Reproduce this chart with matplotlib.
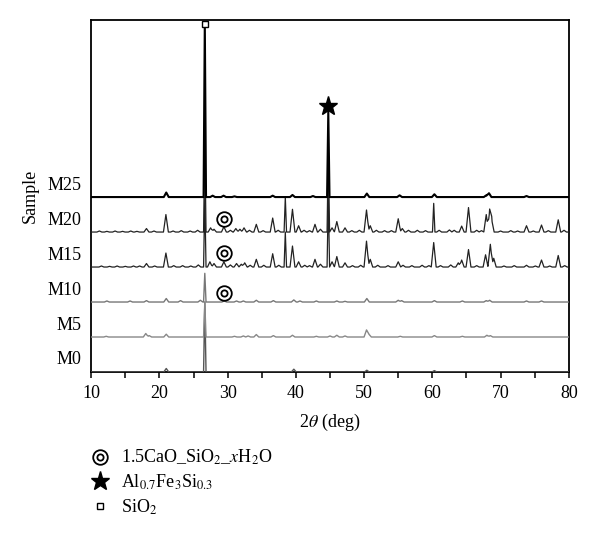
import numpy as np
import matplotlib
matplotlib.use("Agg")
import matplotlib.pyplot as plt
from matplotlib.lines import Line2D
from matplotlib.legend_handler import HandlerTuple

plt.rcParams['font.family'] = ['Liberation Serif', 'DejaVu Serif']
plt.rcParams['mathtext.fontset'] = 'stix'

# sample names, bottom to top
samples = ['M0', 'M5', 'M10', 'M15', 'M20', 'M25']

# peak positions (2theta, deg) and heights (in units of trace spacing)
m0_pos = [21.0, 26.65, 39.7, 50.4, 60.3]
m0_h = [0.10, 2.0, 0.08, 0.05, 0.04]

m5_pos = [12.2, 18.0, 18.5, 21.0, 26.65, 31.0, 32.3, 33.0, 34.2, 36.7, 39.5, 43.0, 45.0,
          46.0, 47.2, 50.35, 50.7, 55.3, 60.3, 64.4, 68.0, 68.5]
m5_h = [0.02, 0.10, 0.04, 0.08, 1.0, 0.02, 0.03, 0.03, 0.07, 0.04, 0.05, 0.02, 0.03,
        0.05, 0.03, 0.20, 0.08, 0.02, 0.04, 0.02, 0.05, 0.04]

m10_pos = [12.3, 15.7, 18.1, 21.0, 23.1, 26.0, 26.65, 29.5, 31.3, 32.3, 34.2, 36.7, 39.7,
           40.6, 43.0, 46.0, 47.2, 50.4, 55.0, 55.5, 60.3, 64.4, 67.9, 68.4, 73.8, 76.0]
m10_h = [0.03, 0.03, 0.04, 0.10, 0.04, 0.05, 0.82, 0.03, 0.03, 0.03, 0.05, 0.04, 0.06,
         0.03, 0.03, 0.03, 0.02, 0.10, 0.05, 0.04, 0.04, 0.03, 0.04, 0.05, 0.03, 0.03]

m15_pos = [11.5, 12.7, 13.8, 15.0, 16.2, 17.1, 18.1, 19.3, 20.95, 22.1, 23.4, 24.6, 25.7,
           26.65, 27.4, 28.0, 29.45, 30.4, 31.3, 32.0, 32.5, 33.3, 34.2, 35.3, 36.6, 37.5,
           38.45, 39.5, 40.4, 41.3, 42.0, 42.8, 43.6, 44.75, 45.3, 46.0, 47.2, 48.3, 49.5,
           50.35, 50.9, 52.0, 53.5, 55.0, 55.7, 57.0, 58.5, 59.5, 60.2, 61.2, 62.7, 63.8,
           64.3, 65.3, 66.5, 67.8, 68.5, 69.0, 70.5, 72.0, 73.8, 75.1, 76.0, 77.2, 78.45, 79.4]
m15_h = [0.03, 0.02, 0.03, 0.02, 0.03, 0.03, 0.10, 0.03, 0.40, 0.04, 0.04, 0.03, 0.06,
         2.0, 0.15, 0.10, 0.15, 0.06, 0.10, 0.08, 0.12, 0.05, 0.22, 0.05, 0.38, 0.05,
         1.0, 0.60, 0.15, 0.05, 0.04, 0.22, 0.08, 2.0, 0.15, 0.30, 0.12, 0.04, 0.05,
         0.74, 0.22, 0.05, 0.04, 0.15, 0.05, 0.04, 0.05, 0.04, 0.70, 0.04, 0.06, 0.12,
         0.20, 0.50, 0.04, 0.35, 0.65, 0.25, 0.03, 0.04, 0.05, 0.03, 0.20, 0.03, 0.33, 0.04]

m20_pos = [11.2, 12.3, 13.5, 14.6, 15.8, 16.7, 18.1, 19.2, 20.95, 22.0, 23.2, 24.5, 25.6,
           26.65, 27.5, 28.0, 29.45, 30.4, 31.2, 31.8, 32.4, 33.2, 34.2, 35.2, 36.6, 37.4,
           38.45, 39.5, 40.4, 41.2, 42.0, 42.8, 43.6, 44.75, 45.3, 46.0, 47.2, 48.2, 49.3,
           50.35, 50.9, 51.8, 53.0, 54.0, 55.0, 55.6, 56.5, 57.8, 59.0, 60.2, 61.0, 62.5,
           63.2, 64.3, 65.3, 66.5, 67.2, 67.9, 68.4, 68.7, 70.0, 71.5, 72.5, 73.8, 74.8,
           76.0, 77.0, 78.45, 79.3]
m20_h = [0.03, 0.02, 0.03, 0.02, 0.03, 0.02, 0.10, 0.03, 0.50, 0.03, 0.04, 0.03, 0.05,
         2.7, 0.12, 0.08, 0.15, 0.05, 0.10, 0.08, 0.12, 0.05, 0.22, 0.04, 0.40, 0.05,
         1.0, 0.65, 0.18, 0.05, 0.04, 0.22, 0.08, 2.4, 0.12, 0.30, 0.12, 0.04, 0.05,
         0.63, 0.18, 0.05, 0.04, 0.04, 0.38, 0.10, 0.05, 0.05, 0.04, 0.82, 0.05, 0.06,
         0.05, 0.17, 0.70, 0.05, 0.04, 0.50, 0.60, 0.35, 0.03, 0.04, 0.03, 0.18, 0.03,
         0.20, 0.04, 0.35, 0.05]

m25_pos = [21.0, 26.65, 27.8, 29.4, 31.0, 36.6, 39.5, 42.5, 44.75, 50.4, 55.2, 60.3,
           67.9, 68.3, 73.8]
m25_h = [0.13, 5.0, 0.04, 0.04, 0.02, 0.04, 0.06, 0.03, 2.45, 0.10, 0.05, 0.08,
         0.05, 0.11, 0.03]

peaks = [(m0_pos, m0_h), (m5_pos, m5_h), (m10_pos, m10_h),
         (m15_pos, m15_h), (m20_pos, m20_h), (m25_pos, m25_h)]

# phase markers
csh_x = [29.4, 29.4, 29.4]
csh_y = [4.37, 3.4, 2.25]
alfesi_x = [44.75]
alfesi_y = [7.6]
sio2_x = [26.65]
sio2_y = [9.95]

colors = ['#555555', '#888888', '#777777', '#222222', '#222222', 'black']
widths = [1.0, 1.0, 1.0, 0.9, 0.9, 1.5]


def peak_width(v):
    return 0.18 if v > 0.8 else 0.36


def trace(pos, h, lo=10, hi=80):
    # piecewise linear pattern: each peak is a narrow triangle on a flat baseline
    xs = [lo, hi]
    for p, v in zip(pos, h):
        w = peak_width(v)
        xs += [p - w, p, p + w]
    xs = np.unique(np.clip(xs, lo, hi))
    ys = np.zeros_like(xs)
    for p, v in zip(pos, h):
        w = peak_width(v)
        ys += np.interp(xs, [p - w, p, p + w], [0, v, 0], left=0, right=0)
    return xs, ys


fig = plt.figure(figsize=(6, 5.41), dpi=100)
ax = fig.add_axes([0.152, 0.3124, 0.796, 0.6506])

for i, (pos, h) in enumerate(peaks):
    xs, ys = trace(pos, h)
    ax.plot(xs, ys + i, color=colors[i], lw=widths[i], zorder=3 + i * 0.1)

ax.plot(csh_x, csh_y, 'o', ms=10.5, mfc='none', mec='black', mew=1.3, zorder=6)
ax.plot(csh_x, csh_y, 'o', ms=4.5, mfc='none', mec='black', mew=1.3, zorder=6)
ax.plot(alfesi_x, alfesi_y, '*', ms=14, color='black', zorder=6)
ax.plot(sio2_x, sio2_y, 's', ms=5, mfc='white', mec='black', mew=1.0, zorder=6)

ax.set_xlim(10, 80)
ax.set_ylim(0, 10.06)
ax.set_xticks(np.arange(10, 81, 10))
ax.set_xticks(np.arange(15, 80, 10), minor=True)
ax.set_yticks(np.arange(len(samples)) + 0.4)
ax.set_yticklabels(samples)
ax.tick_params(axis='x', which='both', direction='out', length=4.5, width=1.1,
               labelsize=13, pad=5)
ax.tick_params(axis='y', length=0, labelsize=13, pad=7)
for s in ax.spines.values():
    s.set_linewidth(1.3)

ax.set_xlabel(r'2$\theta$ (deg)', fontsize=13, labelpad=7)
ax.set_ylabel('Sample', fontsize=13, labelpad=6)

h_csh = (Line2D([], [], marker='o', ms=10.5, mfc='none', mec='black', mew=1.3, ls=''),
         Line2D([], [], marker='o', ms=4.5, mfc='none', mec='black', mew=1.3, ls=''))
h_star = Line2D([], [], marker='*', ms=14, color='black', ls='')
h_sq = Line2D([], [], marker='s', ms=5, mfc='white', mec='black', mew=1.0, ls='')
fig.legend([h_csh, h_star, h_sq],
           [r'1.5CaO_SiO$_2$_$x$H$_2$O', r'Al$_{0.7}$Fe$_3$Si$_{0.3}$', r'SiO$_2$'],
           handler_map={tuple: HandlerTuple(ndivide=1, pad=0)},
           loc='upper left', bbox_to_anchor=(0.148, 0.172), frameon=False,
           fontsize=13, handlelength=1.2, handletextpad=0.6, labelspacing=0.3,
           borderpad=0, borderaxespad=0)

fig.savefig('out.png', dpi=100)
